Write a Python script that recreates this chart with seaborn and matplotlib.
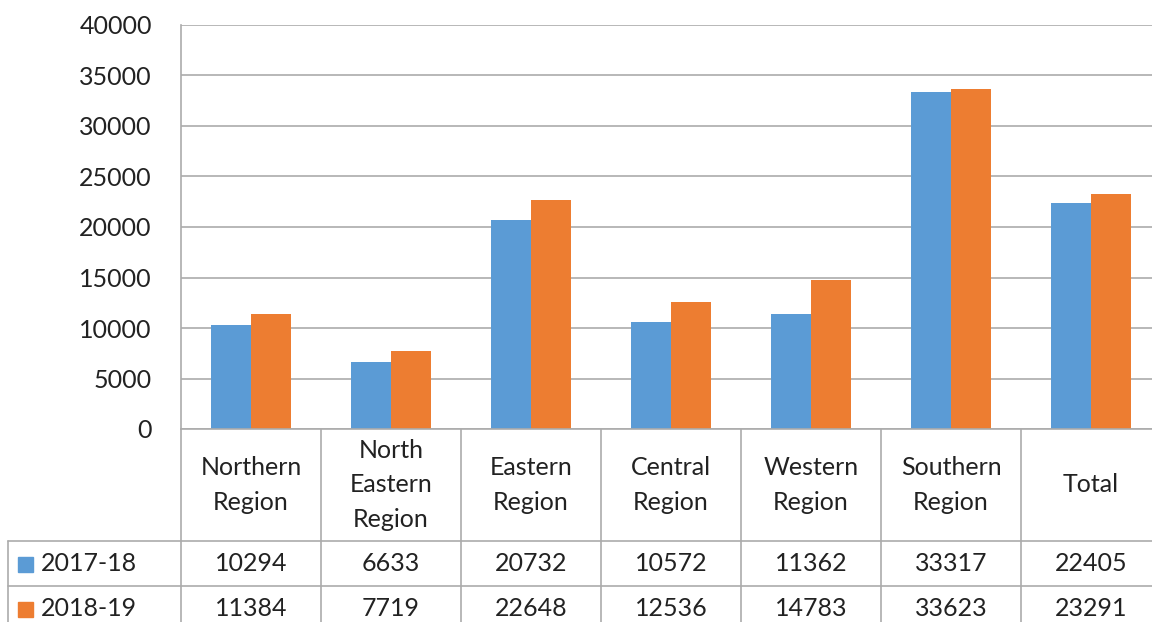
import pandas as pd
import seaborn as sns
import matplotlib.pyplot as plt

# === Data ===
regions = ["Northern\nRegion", "North\nEastern\nRegion", "Eastern\nRegion", "Central\nRegion",
           "Western\nRegion", "Southern\nRegion", "Total"]
years = ["2017-18", "2018-19"]
vals_2017 = [10294, 6633, 20732, 10572, 11362, 33317, 22405]
vals_2018 = [11384, 7719, 22648, 12536, 14783, 33623, 23291]
y_ticks = [0, 5000, 10000, 15000, 20000, 25000, 30000, 35000, 40000]

colors = ["#5B9BD5", "#ED7D31"]
grid_col = "#ababab"
text_col = "#222222"
fs = 18

df = pd.DataFrame({
    "Region": regions * 2,
    "Year": [years[0]] * len(regions) + [years[1]] * len(regions),
    "Value": vals_2017 + vals_2018,
})

sns.set_style("white")
plt.rcParams['font.family'] = ['Lato', 'DejaVu Sans']

W, H = 1152, 622
fig = plt.figure(figsize=(W / 100, H / 100), dpi=100)

# pixel geometry of the plot area (right edge runs past the image)
x0, x1 = 181, 1161
y_top, y_zero = 25, 429
col_w = (x1 - x0) / len(regions)

ax = fig.add_axes([x0 / W, (H - y_zero) / H, (x1 - x0) / W, (y_zero - y_top) / H])
sns.barplot(data=df, x="Region", y="Value", hue="Year", palette=colors,
            width=80 / col_w, gap=0, saturation=1, linewidth=0,
            legend=False, ax=ax)
ax.set_xlim(-0.5, len(regions) - 0.5)
ax.set_ylim(0, 40000)
ax.set_yticks(y_ticks)
ax.set_yticklabels([str(t) for t in y_ticks], fontsize=fs, color=text_col)
ax.tick_params(axis="y", length=0, pad=21)
ax.set_xticks([])
ax.set_xlabel("")
ax.set_ylabel("")
ax.yaxis.grid(True, color=grid_col, linewidth=1.2)
ax.set_axisbelow(True)
for s in ["top", "right"]:
    ax.spines[s].set_visible(False)
for s in ["left", "bottom"]:
    ax.spines[s].set_color(grid_col)
    ax.spines[s].set_linewidth(1.2)

# === Data table below the chart ===
tab = fig.add_axes([0, 0, 1, 1], zorder=-1)
tab.set_xlim(0, W)
tab.set_ylim(H, 0)
tab.axis("off")

row1, row2, row_end = 541, 586, 640
lx = 8
lw = 1.2
for i in range(len(regions) + 1):
    tab.plot([x0 + i * col_w] * 2, [y_zero, row_end], color=grid_col, lw=lw)
tab.plot([lx, lx], [row1, row_end], color=grid_col, lw=lw)
tab.plot([lx, x1], [row1, row1], color=grid_col, lw=lw)
tab.plot([lx, x1], [row2, row2], color=grid_col, lw=lw)

for i, name in enumerate(regions):
    cx = x0 + (i + 0.5) * col_w
    tab.text(cx, (y_zero + row1) / 2, name, ha="center", va="center",
             fontsize=fs, color=text_col, linespacing=1.6)
    tab.text(cx, (row1 + row2) / 2, str(vals_2017[i]), ha="center", va="center",
             fontsize=fs, color=text_col)
    tab.text(cx, (row2 + row2 + 45) / 2, str(vals_2018[i]), ha="center", va="center",
             fontsize=fs, color=text_col)

for j, (yr, c) in enumerate(zip(years, colors)):
    cy = (row1 + row2) / 2 + j * 45
    tab.add_patch(plt.Rectangle((18, cy - 7), 15, 15, color=c))
    tab.text(41, cy, yr, ha="left", va="center", fontsize=fs, color=text_col)

fig.savefig("out.png", dpi=100)
